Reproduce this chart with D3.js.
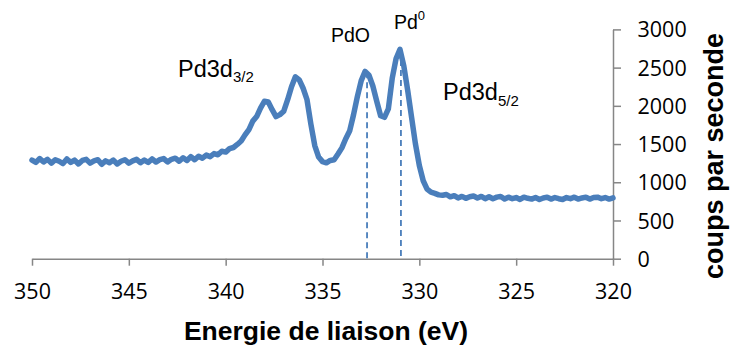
<!DOCTYPE html>
<html>
<head>
<meta charset="utf-8">
<script src="https://cdn.jsdelivr.net/npm/d3@7"></script>
<style>
  html, body { margin: 0; padding: 0; background: #fff; }
  svg { display: block; }
</style>
</head>
<body>
<svg id="chart" width="730" height="346"></svg>
<script>
// ---- data ----
const energies = [
  350.0,349.8,349.6,349.4,349.2,349.0,348.8,348.6,348.4,348.2,
  348.0,347.8,347.6,347.4,347.2,347.0,346.8,346.6,346.4,346.2,
  346.0,345.8,345.6,345.4,345.2,345.0,344.8,344.6,344.4,344.2,
  344.0,343.8,343.6,343.4,343.2,343.0,342.8,342.6,342.4,342.2,
  342.0,341.8,341.6,341.4,341.2,341.0,340.8,340.6,340.4,340.2,
  340.0,339.8,339.6,339.4,339.2,339.0,338.8,338.6,338.4,338.2,
  338.0,337.8,337.6,337.4,337.2,337.0,336.8,336.6,336.4,336.2,
  336.0,335.8,335.6,335.4,335.2,335.0,334.8,334.6,334.4,334.2,
  334.0,333.8,333.6,333.4,333.2,333.0,332.8,332.6,332.4,332.2,
  332.0,331.8,331.6,331.4,331.2,331.0,330.8,330.6,330.4,330.2,
  330.0,329.8,329.6,329.4,329.2,329.0,328.8,328.6,328.4,328.2,
  328.0,327.8,327.6,327.4,327.2,327.0,326.8,326.6,326.4,326.2,
  326.0,325.8,325.6,325.4,325.2,325.0,324.8,324.6,324.4,324.2,
  324.0,323.8,323.6,323.4,323.2,323.0,322.8,322.6,322.4,322.2,
  322.0,321.8,321.6,321.4,321.2,321.0,320.8,320.6,320.4,320.2,
  320.0
];
const counts = [
  1290,1260,1310,1265,1300,1250,1295,1275,1245,1305,
  1260,1290,1240,1285,1300,1250,1280,1295,1235,1280,
  1255,1290,1240,1275,1295,1250,1280,1300,1255,1290,
  1260,1305,1265,1295,1310,1265,1300,1315,1275,1320,
  1285,1335,1295,1340,1315,1355,1335,1375,1360,1405,
  1395,1440,1455,1495,1540,1620,1690,1800,1860,1970,
  2060,2050,1950,1860,1885,1930,2080,2250,2380,2340,
  2230,2080,1760,1480,1330,1270,1255,1285,1295,1370,
  1450,1570,1670,1880,2120,2330,2450,2400,2260,2060,
  1870,1850,1960,2360,2620,2740,2520,2200,1850,1500,
  1220,1020,910,870,855,835,830,840,810,825,
  795,815,790,810,820,795,815,785,810,785,
  805,815,780,805,785,800,775,805,790,780,
  800,775,795,805,780,800,785,775,800,785,
  805,780,795,805,780,800,805,785,800,780,
  795
];
const xTicks = [350, 345, 340, 335, 330, 325, 320];
const yTicks = [0, 500, 1000, 1500, 2000, 2500, 3000];
// reference lines: [energy, top count]
const refEnergies = [332.7, 330.95];
const refTops = [2440, 2730];

// ---- layout ----
const svg = d3.select("#chart");
const x = d3.scaleLinear().domain([350, 320]).range([32, 613]);
const y = d3.scaleLinear().domain([0, 3000]).range([258.7, 29.4]);
const axisColor = "#868686";
const blue = "#4A7EBB";
const tickFont = "'Open Sans', 'Liberation Sans', Arial, sans-serif";
const labFont = "'Liberation Sans', Arial, sans-serif";

// x axis
const gx = svg.append("g").attr("transform", `translate(0,${y(0)})`)
  .call(d3.axisBottom(x).tickValues(xTicks).tickSize(7).tickSizeOuter(0).tickFormat(d3.format("d")));
gx.select(".domain").attr("stroke", axisColor).attr("stroke-width", 1.5);
gx.selectAll(".tick line").attr("stroke", axisColor).attr("stroke-width", 1.5);
gx.selectAll(".tick text").attr("y", 25).attr("dy", "0.71em")
  .attr("font-family", tickFont).attr("font-size", 21.5).attr("fill", "#000");

// y axis (right)
const gy = svg.append("g").attr("transform", `translate(${x(320)},0)`)
  .call(d3.axisRight(y).tickValues(yTicks).tickSize(8).tickSizeOuter(0).tickFormat(d3.format("d")));
gy.select(".domain").attr("stroke", axisColor).attr("stroke-width", 1.5);
gy.selectAll(".tick line").attr("stroke", axisColor).attr("stroke-width", 1.5);
gy.selectAll(".tick text").attr("x", 24.5).attr("dy", "0.35em")
  .attr("font-family", tickFont).attr("font-size", 21.5).attr("fill", "#000");

// dashed reference lines
svg.append("g").selectAll("line").data(refEnergies).join("line")
  .attr("x1", d => x(d)).attr("x2", d => x(d))
  .attr("y1", (d, i) => y(refTops[i])).attr("y2", y(0))
  .attr("stroke", blue).attr("stroke-width", 1.8).attr("stroke-dasharray", "6,4");

// spectrum line
const line = d3.line().x((d, i) => x(energies[i])).y(d => y(d));
svg.append("path").datum(counts)
  .attr("d", line)
  .attr("fill", "none").attr("stroke", blue).attr("stroke-width", 5.5)
  .attr("stroke-linejoin", "round").attr("stroke-linecap", "round");

// annotations
function label(xp, yp, main, sub, sup, size, subSize, shift) {
  const t = svg.append("text").attr("x", xp).attr("y", yp)
    .attr("font-family", labFont).attr("font-size", size).attr("fill", "#000");
  t.append("tspan").text(main);
  if (sub) t.append("tspan").attr("font-size", subSize).attr("dy", shift).text(sub);
  if (sup) t.append("tspan").attr("font-size", subSize).attr("dy", -shift).text(sup);
}
label(178, 77.3, "Pd3d", "3/2", null, 23.5, 15, 5);
label(443, 100, "Pd3d", "5/2", null, 23.5, 15, 6);
label(331, 42.3, "PdO", null, null, 19.5);
label(394, 28.5, "Pd", null, "0", 19.5, 13, 9);

// axis titles
svg.append("text").attr("x", 326).attr("y", 339.5).attr("text-anchor", "middle")
  .attr("font-family", labFont).attr("font-weight", "bold").attr("font-size", 26.5)
  .attr("fill", "#000").text("Energie de liaison (eV)");
svg.append("text").attr("transform", "translate(723,156) rotate(-90)")
  .attr("text-anchor", "middle")
  .attr("font-family", labFont).attr("font-weight", "bold").attr("font-size", 27)
  .attr("fill", "#000").text("coups par seconde");
</script>
</body>
</html>
